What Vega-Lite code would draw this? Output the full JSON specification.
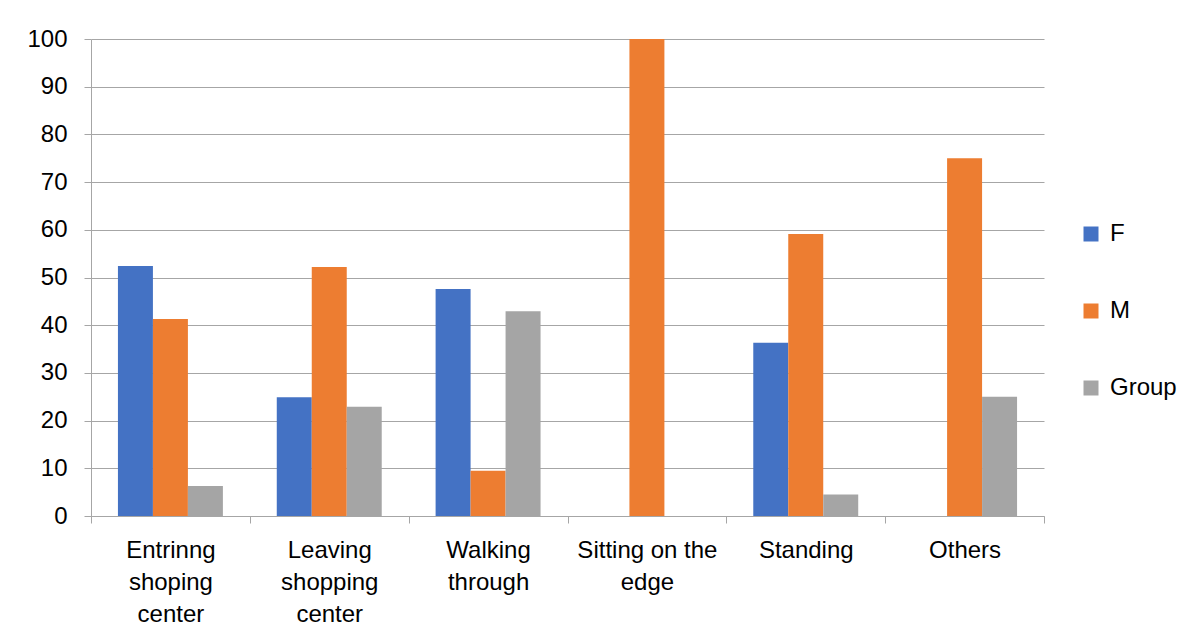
{
  "$schema": "https://vega.github.io/schema/vega-lite/v6.json",
  "width": 953,
  "height": 477,
  "autosize": "none",
  "padding": {"left": 91, "top": 39, "right": 155, "bottom": 124},
  "background": "white",
  "config": {
    "font": "Liberation Sans",
    "view": {"stroke": null},
    "axis": {"labelFont": "Liberation Sans", "labelColor": "#000000", "labelFontSize": 24}
  },
  "data": {
    "values": [
      {"activity": "Entrinng|shoping|center", "series": "F", "value": 52.4},
      {"activity": "Entrinng|shoping|center", "series": "M", "value": 41.3},
      {"activity": "Entrinng|shoping|center", "series": "Group", "value": 6.3},
      {"activity": "Leaving|shopping|center", "series": "F", "value": 24.9},
      {"activity": "Leaving|shopping|center", "series": "M", "value": 52.2},
      {"activity": "Leaving|shopping|center", "series": "Group", "value": 22.9},
      {"activity": "Walking|through", "series": "F", "value": 47.6},
      {"activity": "Walking|through", "series": "M", "value": 9.5},
      {"activity": "Walking|through", "series": "Group", "value": 42.9},
      {"activity": "Sitting on the|edge", "series": "F", "value": 0},
      {"activity": "Sitting on the|edge", "series": "M", "value": 100},
      {"activity": "Sitting on the|edge", "series": "Group", "value": 0},
      {"activity": "Standing", "series": "F", "value": 36.3},
      {"activity": "Standing", "series": "M", "value": 59.1},
      {"activity": "Standing", "series": "Group", "value": 4.5},
      {"activity": "Others", "series": "F", "value": 0},
      {"activity": "Others", "series": "M", "value": 75},
      {"activity": "Others", "series": "Group", "value": 25}
    ]
  },
  "mark": {"type": "bar"},
  "encoding": {
    "x": {
      "field": "activity",
      "type": "nominal",
      "sort": null,
      "title": null,
      "scale": {"paddingInner": 0, "paddingOuter": 0},
      "axis": {
        "labelAngle": 0,
        "labelExpr": "isValid(datum.value) ? split(datum.value, '|') : ''",
        "labelLineHeight": 32,
        "labelPadding": 15,
        "labelBaseline": "top",
        "tickSize": 7,
        "tickColor": "#a6a6a6",
        "tickBand": "extent",
        "domainColor": "#a6a6a6",
        "labelLimit": 300
      }
    },
    "xOffset": {
      "field": "series",
      "type": "nominal",
      "sort": ["F", "M", "Group"],
      "scale": {"paddingInner": 0, "paddingOuter": 0.77}
    },
    "y": {
      "field": "value",
      "type": "quantitative",
      "title": null,
      "scale": {"domain": [0, 100], "nice": false},
      "axis": {
        "values": [0, 10, 20, 30, 40, 50, 60, 70, 80, 90, 100],
        "grid": true,
        "gridColor": "#a6a6a6",
        "tickSize": 7,
        "tickColor": "#a6a6a6",
        "domainColor": "#a6a6a6",
        "labelPadding": 17
      }
    },
    "color": {
      "field": "series",
      "type": "nominal",
      "sort": ["F", "M", "Group"],
      "scale": {"domain": ["F", "M", "Group"], "range": ["#4472C4", "#ED7D31", "#A5A5A5"]},
      "legend": {
        "title": null,
        "orient": "none",
        "legendX": 988,
        "legendY": 183,
        "symbolType": "square",
        "symbolSize": 225,
        "symbolStrokeWidth": 0,
        "symbolOpacity": 1,
        "labelFontSize": 24,
        "labelFont": "Liberation Sans",
        "labelColor": "#000000",
        "labelOffset": 7,
        "rowPadding": 53
      }
    }
  }
}
